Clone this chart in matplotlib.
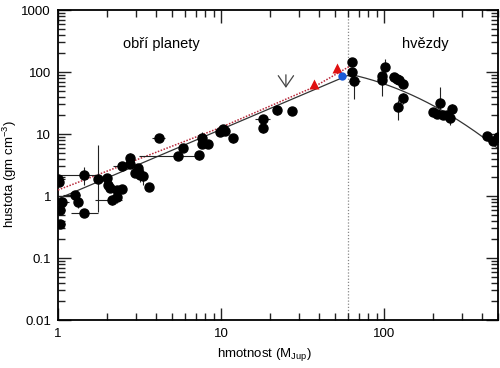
import numpy as np
import matplotlib
matplotlib.use("Agg")
import matplotlib.pyplot as plt
from matplotlib.ticker import LogLocator, FixedLocator, FixedFormatter, NullFormatter

plt.rcParams['font.family'] = ['Liberation Sans', 'DejaVu Sans']

# ---- data: giant planets (mass in M_Jup, density in g/cm^3) ----
planet_m = [1.00, 1.02, 1.44, 1.76, 1.27, 1.33, 1.06, 1.03, 1.03, 1.44,
            2.00, 2.02, 2.08, 2.30, 2.47, 2.14, 2.30, 2.47, 2.77, 2.77,
            2.97, 3.10, 3.20, 3.30, 3.60, 4.16, 5.85, 5.44, 7.33, 7.60,
            7.60, 8.30, 9.86, 10.3, 10.6, 11.9, 18.1, 18.1, 22.1, 27.3]
planet_rho = [1.85, 1.70, 2.20, 1.90, 1.04, 0.80, 0.80, 0.60, 0.36, 0.53,
              1.95, 1.50, 1.37, 1.25, 1.30, 0.87, 0.98, 3.05, 4.10, 3.30,
              2.35, 2.80, 2.20, 2.10, 1.40, 8.60, 5.90, 4.40, 4.60, 8.60,
              6.90, 7.00, 10.7, 12.0, 11.0, 8.60, 17.5, 12.5, 24.0, 23.5]
planet_m_lo = [0, 0, 0.44, 0.05, 0.20, 0, 0.06, 0, 0.03, 0.24,
               0.10, 0, 0, 0, 0, 0.45, 0, 0.30, 0, 0,
               0, 0, 0, 0, 0, 0.40, 0, 2.30, 0, 0,
               0, 0, 0, 0, 0, 0, 2.0, 0, 0, 0]
planet_m_hi = [0.10, 0, 0.32, 0.05, 0.10, 0, 0.10, 0, 0.08, 0.32,
               0.10, 0, 0, 0, 0, 0.33, 0, 0.38, 0, 0,
               0, 0, 0, 0, 0, 0.40, 0, 2.30, 0, 0,
               0, 0, 0, 0, 0, 0, 2.0, 0, 0, 0]
planet_rho_lo = [0.20, 0, 0.70, 1.35, 0, 0.15, 0, 0, 0, 0,
                 0, 0, 0, 0.20, 0, 0.15, 0.20, 0, 0.80, 0,
                 0, 0.50, 0.50, 0.60, 0, 0, 0, 0, 0.80, 1.50,
                 0, 0, 0, 0, 0, 1.50, 2.0, 2.0, 4.0, 0]
planet_rho_hi = [0.20, 0, 0.70, 4.70, 0, 0.15, 0, 0, 0, 0,
                 0, 0, 0, 0.20, 0, 0.15, 0.20, 0, 0.80, 0,
                 0, 0.50, 0.50, 0.60, 0, 0, 0, 0, 0.80, 2.00,
                 0, 0, 0, 0, 0, 1.50, 2.0, 2.0, 4.0, 0]

# ---- data: low-mass stars ----
star_m = [63.6, 63.6, 65.6, 101, 97, 97, 115, 120, 123, 130,
          130, 121, 199, 210, 220, 230, 243, 261, 254, 427, 466, 498]
star_rho = [145, 100, 72, 120, 86, 74, 83, 77, 75, 64,
            38, 27, 22.6, 21, 31.6, 20, 20, 25, 18, 9.3, 7.7, 8.8]
star_m_lo = [0, 0, 5, 0, 0, 0, 8, 0, 0, 0, 0, 0, 10, 0, 0, 0, 0, 0, 0, 0, 0, 0]
star_m_hi = [0, 0, 6, 0, 0, 0, 8, 0, 0, 0, 0, 0, 10, 0, 0, 0, 0, 0, 0, 0, 0, 0]
star_rho_lo = [0, 0, 35, 20, 0, 33, 0, 0, 0, 0, 8, 10, 0, 0, 6, 0, 0, 5, 4, 0, 0, 0]
star_rho_hi = [0, 0, 15, 40, 0, 0, 0, 0, 0, 0, 8, 8, 0, 0, 25, 0, 0, 5, 0, 0, 0, 0]

# ---- special objects ----
tri_m = [37.2, 51.4]
tri_rho = [64, 116]
blue_m = [55.2]
blue_rho = [86]

# ---- model curves ----
model_planet_norm = 0.9      # density at 1 M_Jup
model_peak_m = 62.0
model_planet_slope = 1.12
model_star_a = 0.567
model_star_b = 0.83
red_nodes_m = [1.0, 10.0, 37.0, 62.0]
red_nodes_rho = [1.25, 12.8, 57.0, 125.0]
boundary_m = 60.0
arrow_m = 25.0
arrow_rho = [100.0, 50.0]

fig = plt.figure(figsize=(5.0, 3.68), dpi=100)
ax = fig.add_axes([0.116, 0.1304, 0.880, 0.8424])
ax.set_xscale('log')
ax.set_yscale('log')
ax.set_xlim(1, 500)
ax.set_ylim(0.01, 1000)

# model curve
mm = np.logspace(0, np.log10(500), 400)
lm = np.log10(mm)
lp = np.log10(model_peak_m)
rho_peak = np.log10(model_planet_norm) + model_planet_slope * lp
lr = np.where(lm <= lp,
              np.log10(model_planet_norm) + model_planet_slope * lm,
              rho_peak - model_star_a * (lm - lp) - model_star_b * (lm - lp) ** 2)
ax.plot(mm, 10 ** lr, color='#333333', lw=0.9, zorder=2)
ax.plot(red_nodes_m, red_nodes_rho, color='#b8283a', lw=1.1, ls=(0, (1.0, 1.0)), zorder=3)

ax.axvline(boundary_m, color='#888888', lw=0.9, ls=(0, (1, 1.5)), zorder=1)

ax.errorbar(planet_m, planet_rho,
            xerr=[planet_m_lo, planet_m_hi], yerr=[planet_rho_lo, planet_rho_hi],
            fmt='o', color='black', ms=6.5, ecolor='#222222', elinewidth=0.8,
            capsize=0, zorder=4)
ax.errorbar(star_m, star_rho,
            xerr=[star_m_lo, star_m_hi], yerr=[star_rho_lo, star_rho_hi],
            fmt='o', color='black', ms=6.5, ecolor='#222222', elinewidth=0.8,
            capsize=0, zorder=4)
ax.plot(tri_m, tri_rho, '^', color='#e01010', ms=7, zorder=5, mec='none')
ax.plot(blue_m, blue_rho, 'o', color='#1a5ad8', ms=6, zorder=5, mec='none')

ax.annotate('', xy=(arrow_m, arrow_rho[1]), xytext=(arrow_m, arrow_rho[0]),
            arrowprops=dict(arrowstyle='->,head_length=0.8,head_width=0.55',
                            color='#444444', lw=0.9))

ax.text(0.235, 0.89, 'obří planety', transform=ax.transAxes, ha='center',
        va='center', fontsize=10.5)
ax.text(0.835, 0.89, 'hvězdy', transform=ax.transAxes, ha='center',
        va='center', fontsize=10.5)

ax.set_xlabel('hmotnost (M$_{\\mathregular{Jup}}$)', fontsize=9.5)
ax.set_ylabel('hustota (gm cm$^{\\mathregular{-3}}$)', fontsize=9.5)
ax.xaxis.set_label_coords(0.47, -0.085)
ax.yaxis.set_label_coords(-0.088, 0.47)

ax.xaxis.set_major_locator(FixedLocator([1, 10, 100]))
ax.xaxis.set_major_formatter(FixedFormatter(['1', '10', '100']))
ax.xaxis.set_minor_locator(LogLocator(base=10, subs=np.arange(2, 10), numticks=20))
ax.xaxis.set_minor_formatter(NullFormatter())
ax.yaxis.set_major_locator(FixedLocator([0.01, 0.1, 1, 10, 100, 1000]))
ax.yaxis.set_major_formatter(FixedFormatter(['0.01', '0.1', '1', '10', '100', '1000']))
ax.yaxis.set_minor_locator(LogLocator(base=10, subs=np.arange(2, 10), numticks=20))
ax.yaxis.set_minor_formatter(NullFormatter())

ax.tick_params(which='both', direction='in', top=True, right=True, labelsize=9.5,
               width=1.0, color='#222222')
ax.tick_params(which='major', length=9)
ax.tick_params(which='minor', length=5)
ax.tick_params(axis='x', which='major', pad=6)
ax.tick_params(axis='y', which='major', pad=5)
for s in ax.spines.values():
    s.set_linewidth(1.3)

fig.savefig('out.png', dpi=100)
